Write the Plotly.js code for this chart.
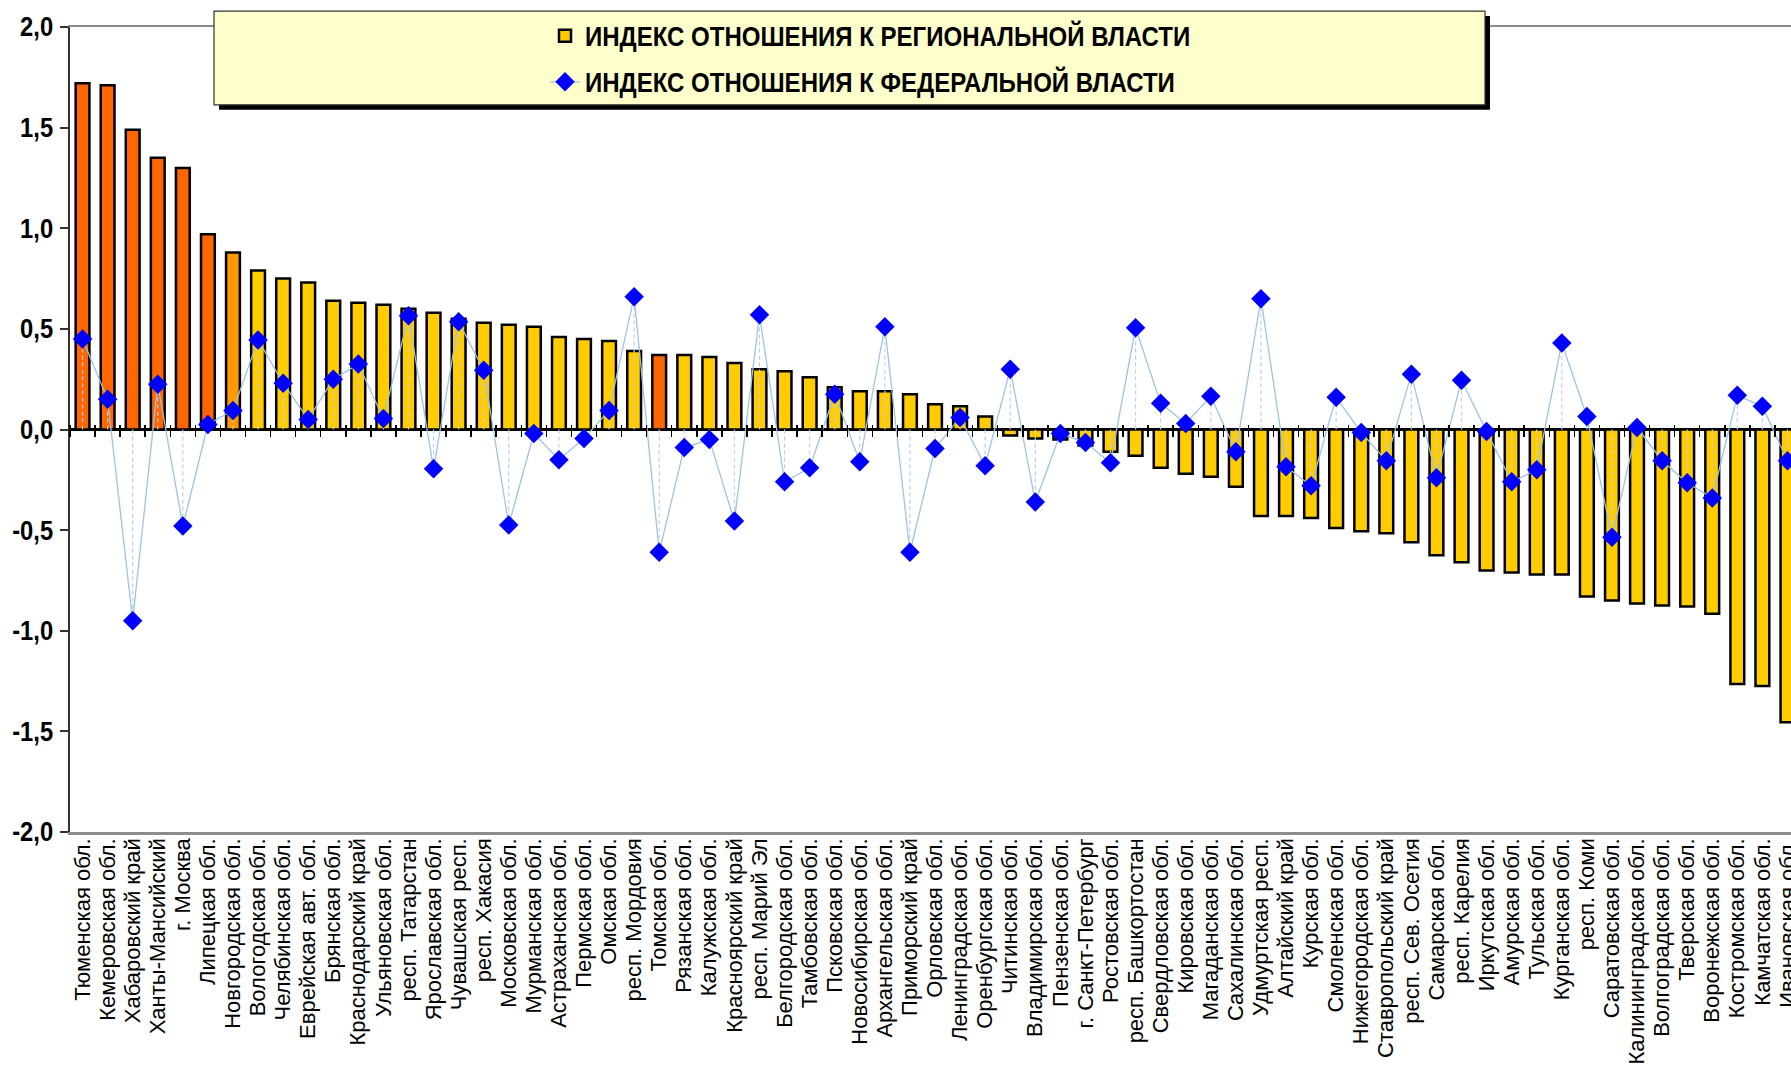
<!DOCTYPE html>
<html><head><meta charset="utf-8">
<script src="https://cdn.plot.ly/plotly-3.0.1.min.js"></script>
<style>
html,body{margin:0;padding:0;overflow:hidden;background:#fff;}
#wrap{width:1791px;height:1076px;overflow:hidden;position:relative;}
#chart{width:1830px;height:1076px;}
</style></head><body>
<div id="wrap"><div id="chart"></div></div>
<script>
const regions = [
 'Тюменская обл.','Кемеровская обл.','Хабаровский край','Ханты-Мансийский','г. Москва',
 'Липецкая обл.','Новгородская обл.','Вологодская обл.','Челябинская обл.','Еврейская авт. обл.',
 'Брянская обл.','Краснодарский край','Ульяновская обл.','респ. Татарстан','Ярославская обл.',
 'Чувашская респ.','респ. Хакасия','Московская обл.','Мурманская обл.','Астраханская обл.',
 'Пермская обл.','Омская обл.','респ. Мордовия','Томская обл.','Рязанская обл.',
 'Калужская обл.','Красноярский край','респ. Марий Эл','Белгородская обл.','Тамбовская обл.',
 'Псковская обл.','Новосибирская обл.','Архангельская обл.','Приморский край','Орловская обл.',
 'Ленинградская обл.','Оренбургская обл.','Читинская обл.','Владимирская обл.','Пензенская обл.',
 'г. Санкт-Петербург','Ростовская обл.','респ. Башкортостан','Свердловская обл.','Кировская обл.',
 'Магаданская обл.','Сахалинская обл.','Удмуртская респ.','Алтайский край','Курская обл.',
 'Смоленская обл.','Нижегородская обл.','Ставропольский край','респ. Сев. Осетия','Самарская обл.',
 'респ. Карелия','Иркутская обл.','Амурская обл.','Тульская обл.','Курганская обл.',
 'респ. Коми','Саратовская обл.','Калининградская обл.','Волгоградская обл.','Тверская обл.',
 'Воронежская обл.','Костромская обл.','Камчатская обл.','Ивановская обл.'
];
const regionalIndex = [
 1.72, 1.71, 1.49, 1.35, 1.30,
 0.97, 0.88, 0.79, 0.75, 0.73,
 0.64, 0.63, 0.62, 0.60, 0.58,
 0.55, 0.53, 0.52, 0.51, 0.46,
 0.45, 0.44, 0.39, 0.37, 0.37,
 0.36, 0.33, 0.30, 0.29, 0.26,
 0.21, 0.19, 0.19, 0.175, 0.125,
 0.115, 0.065, -0.03, -0.045, -0.05,
 -0.08, -0.11, -0.13, -0.19, -0.22,
 -0.235, -0.285, -0.43, -0.43, -0.44,
 -0.49, -0.505, -0.515, -0.56, -0.625,
 -0.66, -0.70, -0.71, -0.72, -0.72,
 -0.83, -0.85, -0.865, -0.875, -0.88,
 -0.915, -1.265, -1.275, -1.455
];
const federalIndex = [
 0.45, 0.15, -0.95, 0.225, -0.48,
 0.025, 0.095, 0.445, 0.23, 0.05,
 0.25, 0.325, 0.055, 0.565, -0.195,
 0.535, 0.295, -0.475, -0.02, -0.15,
 -0.045, 0.095, 0.66, -0.61, -0.09,
 -0.05, -0.455, 0.57, -0.26, -0.19,
 0.175, -0.16, 0.51, -0.61, -0.095,
 0.06, -0.18, 0.30, -0.36, -0.02,
 -0.065, -0.165, 0.505, 0.13, 0.03,
 0.165, -0.11, 0.65, -0.185, -0.28,
 0.16, -0.015, -0.155, 0.275, -0.24,
 0.245, -0.01, -0.26, -0.20, 0.43,
 0.065, -0.535, 0.01, -0.155, -0.265,
 -0.34, 0.17, 0.115, -0.155
];
// группа выделения столбца: 0 — обычный, 1 — выделенный, 2 — промежуточный
const barGroup = [
 1,1,1,1,1, 1,2,0,0,0, 0,0,0,0,0, 0,0,0,0,0, 0,0,0,1,0,
 0,0,0,0,0, 0,0,0,0,0, 0,0,0,0,0, 0,0,0,0,0, 0,0,0,0,0,
 0,0,0,0,0, 0,0,0,0,0, 0,0,0,0,0, 0,0,0,0
];
const yTickVals = [2, 1.5, 1, 0.5, 0, -0.5, -1, -1.5, -2];
const yTickText = ['2,0','1,5','1,0','0,5','0,0','-0,5','-1,0','-1,5','-2,0'];
const seriesNames = ['ИНДЕКС ОТНОШЕНИЯ К РЕГИОНАЛЬНОЙ ВЛАСТИ', 'ИНДЕКС ОТНОШЕНИЯ К ФЕДЕРАЛЬНОЙ ВЛАСТИ'];

const FAM = '"Liberation Sans", Arial, sans-serif';
const groupColors = ['#FFCC00', '#FF6600', '#FF9900'];
function pick(g) { return regionalIndex.map((v, i) => barGroup[i] === g ? v : null); }
const barLine = {color: '#000', width: 2.5};

const traces = [
 {type: 'bar', x: regions, y: pick(0), name: seriesNames[0], legendgroup: 'a',
  marker: {color: groupColors[0], line: barLine}, hoverinfo: 'x+y'},
 {type: 'bar', x: regions, y: pick(1), name: seriesNames[0], showlegend: false,
  marker: {color: groupColors[1], line: barLine}, hoverinfo: 'x+y'},
 {type: 'bar', x: regions, y: pick(2), name: seriesNames[0], showlegend: false,
  marker: {color: groupColors[2], line: barLine}, hoverinfo: 'x+y'}
];
const dropX = [], dropY = [];
regions.forEach((r, i) => { dropX.push(r, r, null); dropY.push(0, federalIndex[i], null); });
traces.push({type: 'scatter', mode: 'lines', x: dropX, y: dropY, xaxis: 'x2',
  showlegend: false, hoverinfo: 'skip',
  line: {color: '#C4CCE2', width: 1.2, dash: '4px,3px'}});
traces.push({type: 'scatter', mode: 'lines+markers', x: regions, y: federalIndex, xaxis: 'x2',
  name: seriesNames[1], legendgroup: 'b',
  line: {color: '#9DC3E6', width: 1.3},
  marker: {symbol: 'diamond', size: 15, color: '#0000FF', line: {width: 0}}});

const H = 1076, T = 25, B = 244;
const plotH = H - T - B;
const L = 70, R = 30, W = 1830;
const plotW = W - L - R;
function px(xFull) { return (xFull - L) / plotW; }
function py(yFull) { return (H - B - yFull) / plotH; }

const catAxis = {type: 'category', categoryorder: 'array', categoryarray: regions,
  range: [-0.5, regions.length - 0.5], showgrid: false, zeroline: false, fixedrange: true};

const legendSize = 27;
const rowGap = 46 - 3 - 1.3 * legendSize;

const layout = {
 width: W, height: H,
 margin: {l: L, r: R, t: T, b: B, pad: 0},
 paper_bgcolor: '#fff', plot_bgcolor: '#fff',
 barmode: 'overlay', bargap: 0.45,
 font: {family: FAM, color: '#000'},
 xaxis: Object.assign({}, catAxis, {
   tickmode: 'array', tickvals: regions, ticktext: regions,
   showline: true, linecolor: '#8C8C8C', linewidth: 2.5, mirror: true,
   ticks: '', ticklen: 0, tickangle: -90, ticklabelstandoff: -5,
   tickfont: {family: FAM, size: 22, color: '#000'}
 }),
 xaxis2: Object.assign({}, catAxis, {
   overlaying: 'x', anchor: 'free', position: 0.5 + 6 / plotH,
   showline: false, showticklabels: false,
   ticks: 'outside', tickson: 'boundaries', ticklen: 12, tickwidth: 1.5, tickcolor: '#000'
 }),
 yaxis: {
   range: [-2, 2], tickmode: 'array', tickvals: yTickVals, ticktext: yTickText,
   ticks: 'outside', ticklen: 8, tickwidth: 2, tickcolor: '#333',
   showline: true, linecolor: '#333', linewidth: 2.5,
   zeroline: true, zerolinecolor: '#000', zerolinewidth: 2.5,
   showgrid: false, fixedrange: true, ticklabelstandoff: 1,
   tickfont: {family: FAM, size: 27, weight: 'bold', color: '#000'}
 },
 legend: {
   x: px(545), xanchor: 'left', y: py(34 - 0.9 * legendSize), yanchor: 'top',
   bgcolor: 'rgba(0,0,0,0)', borderwidth: 0,
   traceorder: 'grouped', tracegroupgap: rowGap,
   font: {family: FAM, size: legendSize, weight: 'bold', color: '#000'}
 },
 shapes: [
   {type: 'rect', xref: 'paper', yref: 'paper', layer: 'above',
    x0: px(219), x1: px(1490), y0: py(14), y1: py(108),
    fillcolor: '#000', line: {width: 0}},
   {type: 'rect', xref: 'paper', yref: 'paper', layer: 'above',
    x0: px(214), x1: px(1485), y0: py(9), y1: py(103),
    fillcolor: '#FFFFCC', line: {color: '#333', width: 1.2}}
 ],
 showlegend: true
};

// узкое начертание надписей, как на образце (сжатие по горизонтали)
function condense(nodes, sx) {
  nodes.forEach(t => {
    const ax = parseFloat(t.getAttribute('x')) || 0;
    const ay = parseFloat(t.getAttribute('y')) || 0;
    const prev = t.getAttribute('transform') || '';
    t.setAttribute('transform', prev + ' translate(' + ax + ',' + ay + ') scale(' + sx + ',1) translate(' + (-ax) + ',' + (-ay) + ')');
  });
}

Plotly.newPlot('chart', traces, layout, {displayModeBar: false, staticPlot: true}).then(gd => {
  condense(gd.querySelectorAll('.yaxislayer-above .ytick text'), 0.88);
  condense(gd.querySelectorAll('.legendtext'), 0.89);
});
</script>
</body></html>
